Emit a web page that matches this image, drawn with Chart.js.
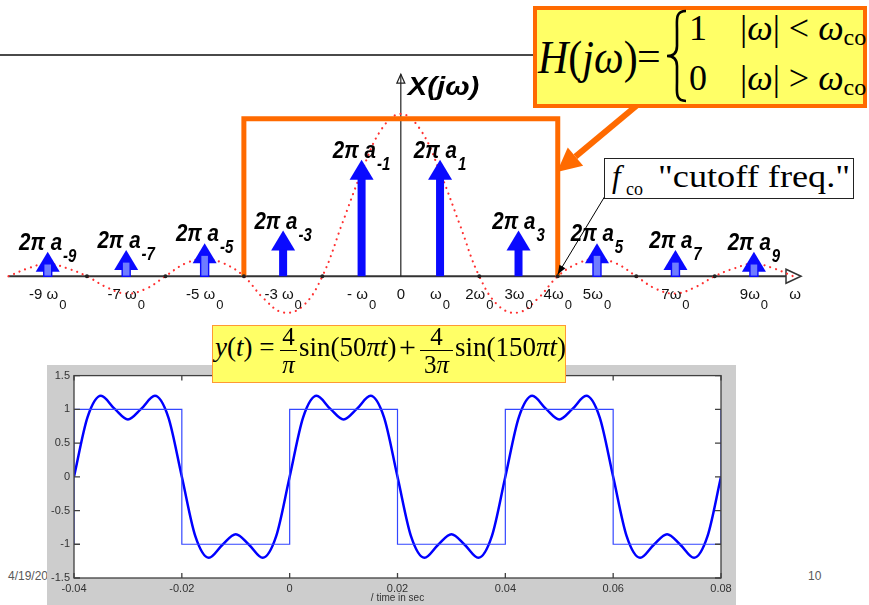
<!DOCTYPE html>
<html lang="en">
<head>
  <meta charset="UTF-8" />
  <title>Ideal lowpass filter on a square wave</title>
  <script src="https://cdn.jsdelivr.net/npm/chart.js"></script>
  <style>
    body {
      margin: 0;
      width: 869px;
      height: 605px;
      overflow: hidden;
      position: relative;
      background: #fff;
      font-family: 'Liberation Sans', Arial, sans-serif;
    }
    .t { position: absolute; line-height: 1; white-space: nowrap; color: #000; z-index: 4; }
    .serif { font-family: 'Liberation Serif', 'Times New Roman', serif; }
    .box { position: absolute; box-sizing: border-box; z-index: 3; }
    #spectrum { position: absolute; left: 0; top: 0; z-index: 1; }
    #timePlot { position: absolute; left: 47px; top: 365px; background: #cdcdcd; z-index: 1; }
    .rule { position: absolute; left: 0; top: 54px; width: 540px; height: 2px; background: #4a4a4a; }
    .foot { position: absolute; font-size: 12px; line-height: 1; color: #595959; z-index: 0; }
    .bar { position: absolute; height: 1.4px; background: #000; z-index: 4; }
  </style>
</head>
<body>
  <div class="rule"></div>
  <canvas id="spectrum" width="869" height="330"></canvas>
  <canvas id="timePlot" width="689" height="240"></canvas>

  <!-- H(jw) box -->
  <div class="box" style="left:533px; top:6px; width:334px; height:102px; border:4px solid #ff6a00; background:#ffff66;"></div>
  <div class="t serif" style="left:538px; top:34px; font-size:42px; transform:scaleY(1.12); transform-origin:left top;"><i>H</i>(<i>jω</i>)</div>
  <div class="t serif" style="left:637px; top:35px; font-size:42px;">=</div>
  <svg class="t" style="left:660px; top:8px;" width="32" height="96">
    <path d="M26,3 C15,3 17,12 17,22 L17,38 C17,45 13,48 7,48 C13,48 17,51 17,58 L17,74 C17,84 15,93 26,93" fill="none" stroke="#000" stroke-width="2.6"/>
  </svg>
  <div class="t serif" style="left:689px; top:10px; font-size:36px;">1</div>
  <div class="t serif" style="left:740px; top:10px; font-size:36px;">|<i>ω</i>| &lt; <i>ω</i><span style="font-size:24px; position:relative; top:5px;">co</span></div>
  <div class="t serif" style="left:689px; top:60px; font-size:36px;">0</div>
  <div class="t serif" style="left:740px; top:60px; font-size:36px;">|<i>ω</i>| &gt; <i>ω</i><span style="font-size:24px; position:relative; top:5px;">co</span></div>

  <!-- cutoff label -->
  <div class="box" style="left:604px; top:158px; width:250px; height:41px; border:1px solid #222; background:#fff;"></div>
  <div class="t serif" style="left:612px; top:161px; font-size:31px;"><i>f</i></div>
  <div class="t serif" style="left:626px; top:180px; font-size:18px;">co</div>
  <div class="t serif" style="left:658px; top:161px; font-size:31px; transform:scaleX(1.17); transform-origin:left top;">"cutoff freq."</div>

  <!-- y(t) formula box -->
  <div class="box" style="left:212px; top:325px; width:354px; height:58px; border:1.5px solid #ff9933; background:#ffff66;"></div>
  <div class="t serif" style="left:215px; top:334px; font-size:27px;"><i>y</i>(<i>t</i>) =</div>
  <div class="t serif" style="left:280px; top:324px; width:17px; text-align:center; font-size:25px;">4</div>
  <div class="bar" style="left:280px; top:350px; width:17px;"></div>
  <div class="t serif" style="left:280px; top:352px; width:17px; text-align:center; font-size:25px;"><i>π</i></div>
  <div class="t serif" style="left:299px; top:334px; font-size:27px;">sin(50<i>πt</i>)</div>
  <div class="t serif" style="left:399px; top:332px; font-size:30px;">+</div>
  <div class="t serif" style="left:420px; top:324px; width:33px; text-align:center; font-size:25px;">4</div>
  <div class="bar" style="left:420px; top:350px; width:33px;"></div>
  <div class="t serif" style="left:420px; top:352px; width:33px; text-align:center; font-size:25px;">3<i>π</i></div>
  <div class="t serif" style="left:455px; top:334px; font-size:27px;">sin(150<i>πt</i>)</div>

  <div class="foot" style="left:8px; top:570px;">4/19/2013</div>
  <div class="foot" style="left:808px; top:570px;">10</div>

  <script>
    const SANS = "'Liberation Sans', Arial, sans-serif";
    const BLUE = '#0a0aff';

    // spectrum X(jw), frequency in multiples of w0, heights relative to H(jw) = 1
    const sincK = [-10, -9.5, -9, -8.5, -8, -7.5, -7, -6.5, -6, -5.5, -5, -4.5, -4, -3.5, -3, -2.5, -2, -1.5, -1, -0.5,
      0, 0.5, 1, 1.5, 2, 2.5, 3, 3.5, 4, 4.5, 5, 5.5, 6, 6.5, 7, 7.5, 8, 8.5, 9, 9.5, 10];
    const sincEnvelope = [0, 0.05, 0.08, 0.05, 0, -0.07, -0.11, -0.08, 0, 0.08, 0.11, 0.08, 0, -0.14, -0.23, -0.19, 0, 0.33, 0.66, 0.93,
      1.03, 0.93, 0.66, 0.33, 0, -0.19, -0.23, -0.14, 0, 0.08, 0.11, 0.08, 0, -0.08, -0.11, -0.07, 0, 0.05, 0.08, 0.05, 0];
    const harmonicK = [-9, -7, -5, -3, -1, 1, 3, 5, 7, 9];
    const arrowHeight = [0.155, 0.167, 0.21, 0.29, 0.74, 0.74, 0.29, 0.21, 0.167, 0.155];
    const zeroK = [-8, -6, -4, -2, 2, 4, 6, 8];
    const filterK = [-4, -4, 4, 4];
    const filterH = [0, 1, 1, 0];
    const axisLabelK = [-9, -7, -5, -3, -1, 0, 1, 2, 3, 4, 5, 7, 9, 10.05];
    const axisLabelMain = ['-9 ω', '-7 ω', '-5 ω', '-3 ω', '- ω', '0', 'ω', '2ω', '3ω', '4ω', '5ω', '7ω', '9ω', 'ω'];
    const axisLabelSub = ['0', '0', '0', '0', '0', '', '0', '0', '0', '0', '0', '0', '0', ''];

    // time plot
    const tSec = [-0.04, -0.0375, -0.035, -0.0325, -0.03, -0.0275, -0.025, -0.0225, -0.02, -0.0175, -0.015, -0.0125,
      -0.01, -0.0075, -0.005, -0.0025, 0, 0.0025, 0.005, 0.0075, 0.01, 0.0125, 0.015, 0.0175, 0.02, 0.0225, 0.025,
      0.0275, 0.03, 0.0325, 0.035, 0.0375, 0.04, 0.0425, 0.045, 0.0475, 0.05, 0.0525, 0.055, 0.0575, 0.06, 0.0625,
      0.065, 0.0675, 0.07, 0.0725, 0.075, 0.0775, 0.08];
    const yFiltered = [0, 0.88, 1.2, 1.01, 0.85, 1.01, 1.2, 0.88, 0, -0.88, -1.2, -1.01, -0.85, -1.01, -1.2, -0.88,
      0, 0.88, 1.2, 1.01, 0.85, 1.01, 1.2, 0.88, 0, -0.88, -1.2, -1.01, -0.85, -1.01, -1.2, -0.88,
      0, 0.88, 1.2, 1.01, 0.85, 1.01, 1.2, 0.88, 0, -0.88, -1.2, -1.01, -0.85, -1.01, -1.2, -0.88, 0];
    const squareT = [-0.04, -0.04, -0.02, -0.02, 0, 0, 0.02, 0.02, 0.04, 0.04, 0.06, 0.06, 0.08, 0.08];
    const squareV = [-1, 1, 1, -1, -1, 1, 1, -1, -1, 1, 1, -1, -1, 1];

    // main text plus a lowered subscript, centred on cx, optionally stretched vertically
    function drawSub(ctx, main, sub, cx, base, mainFont, subFont, drop, sy = 1) {
      ctx.font = mainFont;
      const wm = ctx.measureText(main).width;
      ctx.font = subFont;
      const ws = sub ? ctx.measureText(sub).width + 1 : 0;
      const left = cx - (wm + ws) / 2;
      ctx.save();
      ctx.translate(left, base);
      ctx.scale(1, sy);
      ctx.font = mainFont;
      ctx.fillText(main, 0, 0);
      if (sub) {
        ctx.font = subFont;
        ctx.fillText(sub, wm + 1, drop / sy);
      }
      ctx.restore();
    }

    const spectrumDecor = {
      id: 'spectrumDecor',
      beforeDatasetsDraw(chart) {
        const { ctx, scales: { x, y } } = chart;
        const y0 = y.getPixelForValue(0);
        ctx.save();
        // w axis with open arrow
        const xa = x.getPixelForValue(-10), xb = x.getPixelForValue(10.2);
        ctx.strokeStyle = '#333';
        ctx.lineWidth = 2;
        ctx.beginPath(); ctx.moveTo(xa, y0); ctx.lineTo(xb - 12, y0); ctx.stroke();
        ctx.lineWidth = 1.5;
        ctx.fillStyle = '#fff';
        ctx.beginPath(); ctx.moveTo(xb, y0); ctx.lineTo(xb - 15, y0 - 7); ctx.lineTo(xb - 15, y0 + 7); ctx.closePath();
        ctx.fill(); ctx.stroke();
        // vertical axis
        const xv = x.getPixelForValue(0), yt = y.getPixelForValue(1.282);
        ctx.lineWidth = 1.2;
        ctx.strokeStyle = '#222';
        ctx.beginPath(); ctx.moveTo(xv, y0); ctx.lineTo(xv, yt); ctx.stroke();
        ctx.beginPath(); ctx.moveTo(xv - 4, yt + 9); ctx.lineTo(xv, yt); ctx.lineTo(xv + 4, yt + 9); ctx.closePath(); ctx.stroke();
        ctx.restore();
      },
      afterDatasetsDraw(chart) {
        const { ctx, scales: { x, y } } = chart;
        const y0 = y.getPixelForValue(0);
        ctx.save();
        // harmonic arrows
        const meta = chart.getDatasetMeta(2);
        meta.data.forEach((bar, i) => {
          const k = harmonicK[i];
          const px = bar.x, tip = bar.y, base = bar.base;
          const headW = 24, headH = 20, shaftW = 8;
          ctx.fillStyle = BLUE;
          ctx.beginPath();
          ctx.moveTo(px, tip); ctx.lineTo(px + headW / 2, tip + headH); ctx.lineTo(px - headW / 2, tip + headH);
          ctx.closePath(); ctx.fill();
          if (Math.abs(k) >= 5) {
            const top = tip + headH - 8;
            ctx.fillStyle = '#6f7cff';
            ctx.fillRect(px - shaftW / 2, top, shaftW, base - top);
            ctx.strokeStyle = BLUE; ctx.lineWidth = 1.4;
            ctx.strokeRect(px - shaftW / 2, top, shaftW, base - top);
          } else {
            ctx.fillRect(px - shaftW / 2, tip + headH - 1, shaftW, base - tip - headH + 1);
          }
          ctx.fillStyle = '#000';
          drawSub(ctx, '2π a', k < 0 ? '-' + Math.abs(k) : String(k), px, tip - 2,
            'italic bold 20.5px ' + SANS, 'italic bold 15px ' + SANS, 12, 1.18);
        });
        // axis labels
        ctx.fillStyle = '#111';
        axisLabelK.forEach((k, i) => {
          drawSub(ctx, axisLabelMain[i], axisLabelSub[i], x.getPixelForValue(k), y0 + 23,
            '15px ' + SANS, '13px ' + SANS, 10);
        });
        // X(jw) label
        ctx.fillStyle = '#000';
        ctx.save();
        ctx.translate(x.getPixelForValue(0) + 7, y.getPixelForValue(1.15));
        ctx.scale(1.17, 1);
        ctx.font = 'italic bold 25px ' + SANS;
        ctx.fillText('X(jω)', 0, 0);
        ctx.restore();
        // cutoff pointer
        const cx = x.getPixelForValue(4), cy = y0 - 2;
        ctx.strokeStyle = '#000'; ctx.lineWidth = 1;
        ctx.beginPath(); ctx.moveTo(605, 196); ctx.lineTo(cx, cy); ctx.stroke();
        let ang = Math.atan2(cy - 196, cx - 605);
        ctx.fillStyle = '#000';
        ctx.beginPath();
        ctx.moveTo(cx, cy);
        ctx.lineTo(cx - 9 * Math.cos(ang) + 3.5 * Math.sin(ang), cy - 9 * Math.sin(ang) - 3.5 * Math.cos(ang));
        ctx.lineTo(cx - 9 * Math.cos(ang) - 3.5 * Math.sin(ang), cy - 9 * Math.sin(ang) + 3.5 * Math.cos(ang));
        ctx.closePath(); ctx.fill();
        // orange pointer from the H box to the filter
        const ox = 557, oy = 172, sx = 641, sy = 102;
        ang = Math.atan2(oy - sy, ox - sx);
        const hx = ox - 24 * Math.cos(ang), hy = oy - 24 * Math.sin(ang);
        ctx.strokeStyle = '#ff6a00'; ctx.lineWidth = 6;
        ctx.beginPath(); ctx.moveTo(sx, sy); ctx.lineTo(hx, hy); ctx.stroke();
        ctx.fillStyle = '#ff6a00';
        ctx.beginPath();
        ctx.moveTo(ox, oy);
        ctx.lineTo(hx + 12 * Math.sin(ang), hy - 12 * Math.cos(ang));
        ctx.lineTo(hx - 12 * Math.sin(ang), hy + 12 * Math.cos(ang));
        ctx.closePath(); ctx.fill();
        ctx.restore();
      }
    };

    new Chart(document.getElementById('spectrum'), {
      type: 'line',
      data: {
        datasets: [
          {
            label: 'envelope',
            data: sincK.map((k, i) => ({ x: k, y: sincEnvelope[i] })),
            borderColor: '#ff3030',
            borderWidth: 2.2,
            borderDash: [0.01, 6],
            borderCapStyle: 'round',
            pointRadius: 0,
            tension: 0.4,
            order: 4
          },
          {
            label: 'H(jw)',
            data: filterK.map((k, i) => ({ x: k, y: filterH[i] })),
            borderColor: '#ff6a00',
            borderWidth: 5,
            borderJoinStyle: 'miter',
            pointRadius: 0,
            tension: 0,
            order: 2
          },
          {
            label: 'harmonics',
            type: 'bar',
            data: harmonicK.map((k, i) => ({ x: k, y: arrowHeight[i] })),
            backgroundColor: 'rgba(0,0,0,0)',
            barThickness: 8,
            order: 3
          },
          {
            label: 'zeros',
            type: 'scatter',
            data: zeroK.map(k => ({ x: k, y: 0 })),
            pointRadius: 2,
            backgroundColor: '#222',
            borderWidth: 0,
            order: 1
          }
        ]
      },
      options: {
        responsive: false,
        animation: false,
        devicePixelRatio: 1,
        layout: { padding: 0 },
        plugins: { legend: { display: false }, tooltip: { enabled: false } },
        scales: {
          x: { type: 'linear', display: false, offset: false, min: -10.114, max: 11.831 },
          y: { display: false, min: -0.3158, max: 1.7276 }
        }
      },
      plugins: [spectrumDecor]
    });

    const matlabFrame = {
      id: 'matlabFrame',
      beforeDraw(chart) {
        const { ctx, chartArea: a } = chart;
        ctx.save();
        ctx.fillStyle = '#fff';
        ctx.fillRect(a.left, a.top, a.right - a.left, a.bottom - a.top);
        ctx.restore();
      },
      afterDatasetsDraw(chart) {
        const { ctx, chartArea: a, scales: { x, y } } = chart;
        ctx.save();
        ctx.strokeStyle = '#404040';
        ctx.lineWidth = 1.3;
        ctx.strokeRect(a.left, a.top, a.right - a.left, a.bottom - a.top);
        ctx.beginPath();
        x.ticks.forEach(t => {
          const px = x.getPixelForValue(t.value);
          ctx.moveTo(px, a.bottom); ctx.lineTo(px, a.bottom - 5);
          ctx.moveTo(px, a.top); ctx.lineTo(px, a.top + 5);
        });
        y.ticks.forEach(t => {
          const py = y.getPixelForValue(t.value);
          ctx.moveTo(a.left, py); ctx.lineTo(a.left + 6, py);
          ctx.moveTo(a.right, py); ctx.lineTo(a.right - 6, py);
        });
        ctx.stroke();
        ctx.restore();
      }
    };

    new Chart(document.getElementById('timePlot'), {
      type: 'line',
      data: {
        datasets: [
          {
            label: 'y(t)',
            data: tSec.map((t, i) => ({ x: t, y: yFiltered[i] })),
            borderColor: '#0000ff',
            borderWidth: 2.5,
            pointRadius: 0,
            cubicInterpolationMode: 'monotone',
            order: 2
          },
          {
            label: 'x(t)',
            data: squareT.map((t, i) => ({ x: t, y: squareV[i] })),
            borderColor: '#3346ff',
            borderWidth: 1.2,
            pointRadius: 0,
            tension: 0,
            order: 1
          }
        ]
      },
      options: {
        responsive: false,
        animation: false,
        devicePixelRatio: 1,
        layout: { padding: { top: 10, right: 15, left: 0, bottom: 0 } },
        plugins: { legend: { display: false }, tooltip: { enabled: false } },
        scales: {
          x: {
            type: 'linear', min: -0.04, max: 0.08,
            grid: { display: false, drawTicks: false }, border: { display: false },
            ticks: {
              stepSize: 0.02, padding: 4, color: '#333', maxRotation: 0, autoSkip: false,
              font: { family: SANS, size: 11 },
              callback: v => String(Math.round(v * 100) / 100)
            },
            title: { display: true, text: '/ time in sec', color: '#333', font: { family: SANS, size: 10 }, padding: { top: 0, bottom: 1 } },
            afterFit(s) { s.height = 27; }
          },
          y: {
            min: -1.5, max: 1.5,
            grid: { display: false, drawTicks: false }, border: { display: false },
            ticks: {
              stepSize: 0.5, padding: 4, color: '#333', font: { family: SANS, size: 11 },
              callback: v => String(Math.round(v * 10) / 10)
            },
            afterFit(s) { s.width = 27; }
          }
        }
      },
      plugins: [matlabFrame]
    });
  </script>
</body>
</html>
